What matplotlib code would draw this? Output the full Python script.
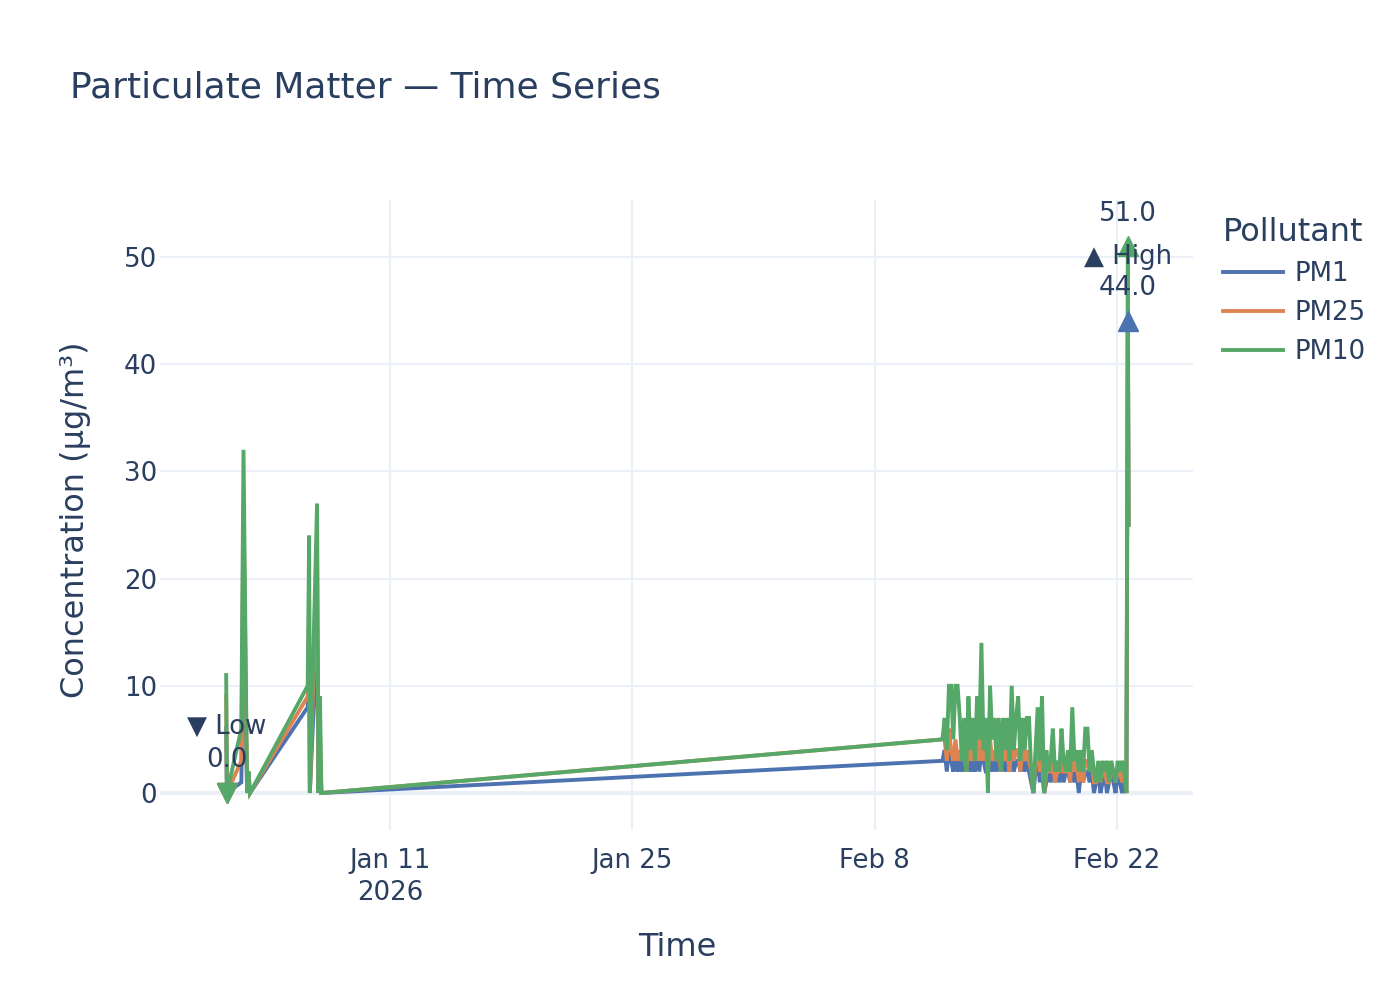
import matplotlib
matplotlib.use("Agg")
import matplotlib.pyplot as plt
import pandas as pd

plt.rcParams['font.family'] = ['DejaVu Sans']

# ---------------- data ----------------
early_times = ["2026-01-01 13:00", "2026-01-01 14:00", "2026-01-02 10:00", "2026-01-02 13:00",
               "2026-01-02 18:00", "2026-01-02 20:00", "2026-01-02 22:00", "2026-01-06 06:00",
               "2026-01-06 08:00", "2026-01-06 09:00", "2026-01-06 19:00", "2026-01-06 21:00",
               "2026-01-06 23:00", "2026-01-07 01:00"]
early_pm1 = [6, 0, 1, 18, 0, 1, 0, 8, 12, 0, 15, 0, 4, 0]
early_pm25 = [9, 0, 3, 27, 0, 2, 0, 9, 18, 0, 22, 0, 6, 0]
early_pm10 = [11, 0, 6, 32, 0, 2, 0, 10, 24, 0, 27, 0, 9, 0]

cluster_start = "2026-02-11 22:00"
cluster_freq = "3h"
cluster_pm1 = [3, 4, 2, 4, 3, 2, 4, 2, 3, 2, 3, 2, 4, 2, 3, 2, 4, 2, 4, 3,
               2, 2, 4, 2, 3, 2, 3, 2, 3, 2, 3, 2, 3, 2, 3, 3, 2, 3, 2, 3,
               2, 1, 0, 2, 3, 1, 2, 0, 1, 2, 1, 2, 1, 2, 1, 2, 1, 2, 2, 1,
               2, 1, 2, 0, 2, 1, 2, 2, 1, 2, 0, 1, 2, 0, 1, 2, 0, 1, 2, 1,
               0, 2, 1, 0, 1]
cluster_pm25 = [5, 5, 3, 6, 4, 3, 5, 3, 4, 3, 4, 2, 5, 3, 4, 3, 5, 3, 6, 3,
                4, 2, 5, 3, 4, 3, 4, 2, 5, 3, 4, 2, 5, 3, 4, 4, 2, 4, 3, 4,
                3, 2, 0, 3, 4, 2, 3, 0, 2, 2, 2, 3, 1, 2, 2, 3, 2, 2, 3, 1,
                4, 2, 3, 1, 3, 1, 3, 3, 2, 3, 1, 1, 2, 1, 2, 2, 1, 1, 2, 2,
                1, 2, 2, 1, 2]
cluster_pm10 = [5, 7, 4, 10, 10, 5, 10, 10, 7, 3, 7, 2, 9, 4, 7, 3, 9, 5, 14, 4,
                7, 0, 10, 5, 7, 3, 7, 2, 7, 4, 7, 3, 10, 4, 7, 9, 3, 7, 4, 7,
                7, 2, 0, 4, 8, 3, 9, 0, 4, 2, 3, 6, 2, 3, 2, 6, 3, 2, 4, 2,
                8, 3, 4, 2, 4, 2, 6, 6, 2, 4, 2, 1, 3, 1, 3, 2, 3, 1, 3, 2,
                1, 3, 2, 3, 2]

late_times = ["2026-02-22 13:00", "2026-02-22 15:00", "2026-02-22 16:00"]
late_pm1 = [0, 44, 25]
late_pm25 = [0, 44, 25]
late_pm10 = [0, 51, 25]

series_names = ["PM1", "PM25", "PM10"]
colors = ["#4C72B0", "#DD8452", "#55A868"]
x_tick_dates = ["2026-01-11", "2026-01-25", "2026-02-08", "2026-02-22"]
x_tick_labels = ["Jan 11\n2026", "Jan 25", "Feb 8", "Feb 22"]
y_ticks = [0, 10, 20, 30, 40, 50]

# ---------------- assemble ----------------
cluster_times = pd.date_range(cluster_start, periods=len(cluster_pm10), freq=cluster_freq)
times = pd.to_datetime(early_times).append(cluster_times).append(pd.to_datetime(late_times))
df = pd.DataFrame({
    "PM1": early_pm1 + cluster_pm1 + late_pm1,
    "PM25": early_pm25 + cluster_pm25 + late_pm25,
    "PM10": early_pm10 + cluster_pm10 + late_pm10,
}, index=times)

TXT = "#2a3f5f"
GRID = "#EBF0F8"
FS = 18.7
FS_AX = 23.0
FS_TITLE = 25.9

fig = plt.figure(figsize=(14, 10), dpi=100)
ax = fig.add_axes([160 / 1400, 1 - 830 / 1000, (1193 - 160) / 1400, (830 - 200) / 1000])
ax.set_facecolor("white")

for name, c in zip(series_names, colors):
    ax.plot(df.index, df[name], color=c, lw=2.8, label=name, zorder=3, solid_joinstyle="miter")

# extreme markers
for name, c in zip(series_names, colors):
    tmin = df[name].idxmin()
    ax.plot([tmin], [df[name].min()], marker="v", ms=14, color=c, ls="none", zorder=5, clip_on=False)
for name, c in zip(["PM1", "PM10"], [colors[0], colors[2]]):
    tmax = df[name].idxmax()
    ax.plot([tmax], [df[name].max()], marker="^", ms=14, color=c, ls="none", zorder=5, clip_on=False)

# annotations
t_low = df["PM10"].idxmin()
ax.annotate("▼ Low", xy=(t_low, df["PM10"].min()), xytext=(0, 47.5), textcoords="offset points",
            ha="center", va="center", fontsize=FS, color=TXT, zorder=6)
ax.annotate(f"{df['PM10'].min():.1f}", xy=(t_low, df["PM10"].min()), xytext=(0, 23.8), textcoords="offset points",
            ha="center", va="center", fontsize=FS, color=TXT, zorder=6)
t1 = df["PM1"].idxmax()
ax.annotate("▲ High", xy=(t1, df["PM1"].max()), xytext=(0, 46), textcoords="offset points",
            ha="center", va="center", fontsize=FS, color=TXT, zorder=6)
ax.annotate(f"{df['PM1'].max():.1f}", xy=(t1, df["PM1"].max()), xytext=(0, 23.8), textcoords="offset points",
            ha="center", va="center", fontsize=FS, color=TXT, zorder=6)
t10 = df["PM10"].idxmax()
ax.annotate(f"{df['PM10'].max():.1f}", xy=(t10, df["PM10"].max()), xytext=(0, 23), textcoords="offset points",
            ha="center", va="center", fontsize=FS, color=TXT, zorder=6)

# axes styling
ax.set_xlim(pd.Timestamp("2025-12-28 17:15"), pd.Timestamp("2026-02-26 09:20"))
ax.set_ylim(-3.45, 55.3)
ax.set_xticks(pd.to_datetime(x_tick_dates))
ax.set_xticklabels(x_tick_labels)
ax.set_yticks(y_ticks)
ax.tick_params(axis="both", length=0, labelsize=FS, labelcolor=TXT)
ax.tick_params(axis="x", pad=13)
ax.tick_params(axis="y", pad=2)
for lab in ax.get_xticklabels():
    lab.set_linespacing(1.3)
ax.grid(True, color=GRID, lw=1.5, zorder=0)
ax.axhline(0, color=GRID, lw=3, zorder=1)
for s in ax.spines.values():
    s.set_visible(False)

fig.text(70 / 1400, 1 - 88 / 1000, "Particulate Matter — Time Series", fontsize=FS_TITLE, color=TXT,
         ha="left", va="center")
fig.text(677 / 1400, 1 - 948 / 1000, "Time", fontsize=FS_AX, color=TXT, ha="center", va="center")
fig.text(76 / 1400, 1 - 520 / 1000, "Concentration (µg/m³)", fontsize=FS_AX, color=TXT,
         ha="center", va="center", rotation=90)

leg = fig.legend(loc="upper left", bbox_to_anchor=(1210 / 1400, 1 - 204 / 1000), frameon=False,
                 fontsize=FS, title="Pollutant", title_fontsize=FS_AX, handlelength=2.3,
                 handletextpad=0.45, labelspacing=0.5, alignment="left", borderpad=0)
leg.get_title().set_color(TXT)
for t in leg.get_texts():
    t.set_color(TXT)

fig.savefig("out.png", dpi=100)
